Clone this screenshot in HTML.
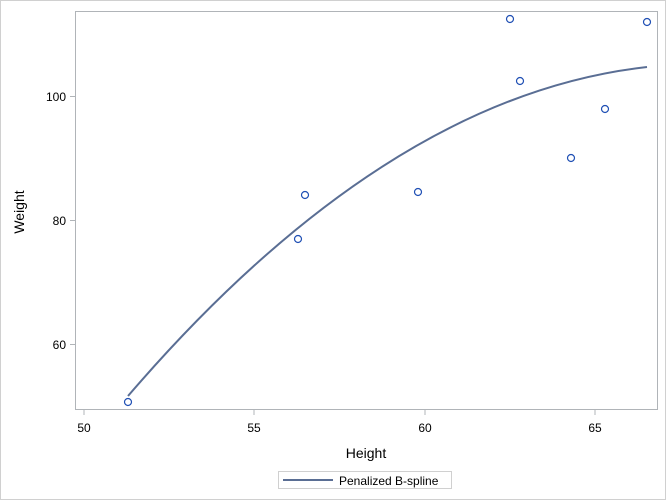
<!DOCTYPE html>
<html><head><style>
body{margin:0;background:#fff}
svg{display:block;font-family:"Liberation Sans",sans-serif}
</style></head><body>
<svg width="666" height="500" viewBox="0 0 666 500">
<rect x="0.5" y="0.5" width="665" height="499" fill="#fff" stroke="#d0d0d0"/>
<rect x="75.5" y="11.5" width="582" height="398" fill="#fff" stroke="#b0b4b8"/>
<g stroke="#b0b4b8">
<line x1="84" y1="410" x2="84" y2="415"/><line x1="254" y1="410" x2="254" y2="415"/>
<line x1="425" y1="410" x2="425" y2="415"/><line x1="595" y1="410" x2="595" y2="415"/>
<line x1="70" y1="96.5" x2="75" y2="96.5"/><line x1="70" y1="220.5" x2="75" y2="220.5"/><line x1="70" y1="344.5" x2="75" y2="344.5"/>
</g>
<g font-size="12" fill="#000" text-anchor="middle">
<text x="84" y="432">50</text><text x="254" y="432">55</text><text x="425" y="432">60</text><text x="595" y="432">65</text>
<text x="66" y="101" text-anchor="end">100</text><text x="66" y="225" text-anchor="end">80</text><text x="66" y="349" text-anchor="end">60</text>
<text x="366" y="458" font-size="14">Height</text>
<text x="24" y="212" font-size="14" transform="rotate(-90 24 212)">Weight</text>
</g>
<path d="M128,396 Q386,96 647,67" fill="none" stroke="#5a6e94" stroke-width="2"/>
<g fill="none" stroke="#1f4fb4" stroke-width="1.2">
<circle cx="128" cy="402" r="3.5"/><circle cx="298" cy="239" r="3.5"/><circle cx="305" cy="195" r="3.5"/>
<circle cx="418" cy="192" r="3.5"/><circle cx="510" cy="19" r="3.5"/><circle cx="520" cy="81" r="3.5"/>
<circle cx="571" cy="158" r="3.5"/><circle cx="605" cy="109" r="3.5"/><circle cx="647" cy="22" r="3.5"/>
</g>
<rect x="278.5" y="471.5" width="173" height="17" fill="#fff" stroke="#d0d0d0"/>
<line x1="283" y1="480" x2="333" y2="480" stroke="#5a6e94" stroke-width="2"/>
<text x="339" y="485" font-size="12">Penalized B-spline</text>
</svg>
</body></html>
